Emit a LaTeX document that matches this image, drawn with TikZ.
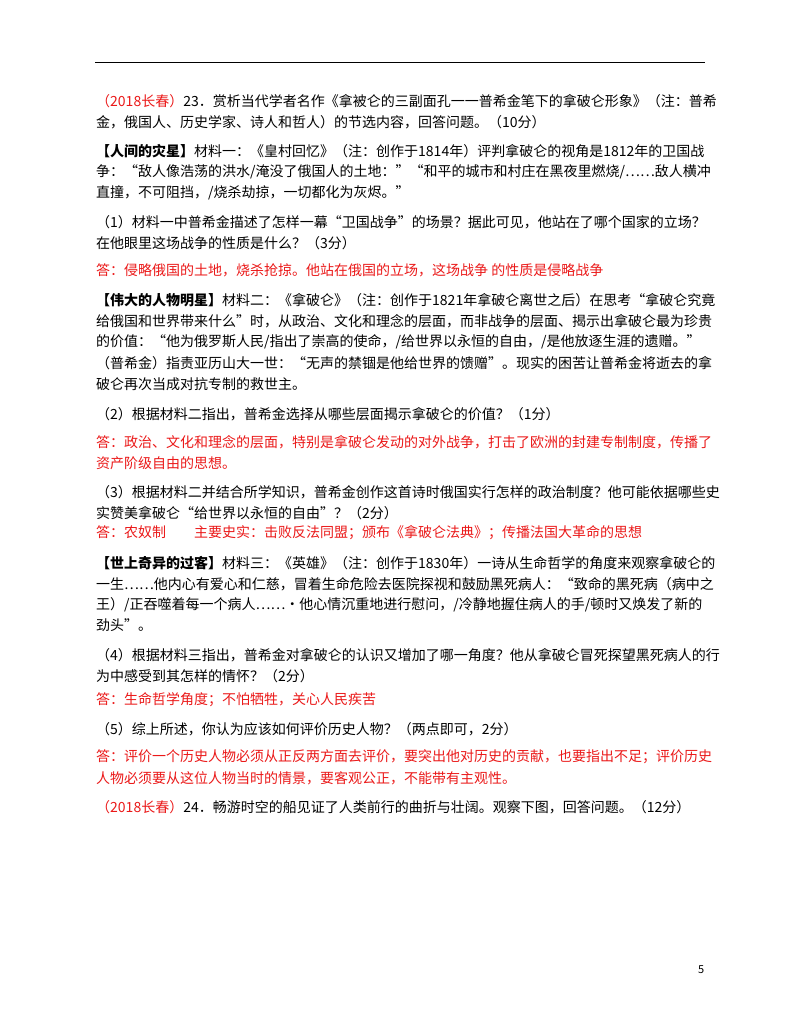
\documentclass[tikz,border=0pt]{standalone}
\usepackage{fontspec}
\setmainfont{Noto Sans CJK SC}
\XeTeXlinebreaklocale "zh"
\XeTeXlinebreakskip=0pt plus 4pt minus 1.2pt
\definecolor{ansred}{RGB}{235,25,25}
\newcommand{\fl}[1]{\makebox[608pt][s]{#1}}
\begin{document}
\begin{tikzpicture}[x=1pt,y=-1pt,
  txt/.style={anchor=west,inner sep=0pt,font=\fontsize{14}{16}\selectfont},
  ans/.style={txt,text=ansred}]
\useasboundingbox[fill=white] (0,0) rectangle (800,1035);
% Rule
\coordinate (rl) at (95,62);
\coordinate (rr) at (705,62);
\draw[line width=0.8pt] (rl) -- (rr);
% Question 23
\node[txt] (q1) at (96,101) {\fl{{\color{ansred}（2018长春）}23．赏析当代学者名作《拿被仑的三副面孔一一普希金笔下的拿破仑形象》（注：普希}};
\node[txt] (q2) at (96,122) {金，俄国人、历史学家、诗人和哲人）的节选内容，回答问题。（10分）};
% Material one
\node[txt] (m1a) at (96,151) {\fl{\textbf{【人间的灾星】}材料一：《皇村回忆》（注：创作于1814年）评判拿破仑的视角是1812年的卫国战}};
\node[txt] (m1b) at (96,172) {\fl{争：“敌人像浩荡的洪水/淹没了俄国人的土地："“和平的城市和村庄在黑夜里燃烧/……敌人横冲}};
\node[txt] (m1c) at (96,193) {直撞，不可阻挡，/烧杀劫掠，一切都化为灰烬。”};
\node[txt] (s1a) at (96,222) {\fl{（1）材料一中普希金描述了怎样一幕“卫国战争”的场景？据此可见，他站在了哪个国家的立场？}};
\node[txt] (s1b) at (96,243) {在他眼里这场战争的性质是什么？（3分）};
\node[ans] (a1) at (96,270) {答：侵略俄国的土地，烧杀抢掠。他站在俄国的立场，这场战争 的性质是侵略战争};
% Material two
\node[txt] (m2a) at (96,300) {\fl{\textbf{【伟大的人物明星】}材料二：《拿破仑》（注：创作于1821年拿破仑离世之后）在思考“拿破仑究竟}};
\node[txt] (m2b) at (96,321) {\fl{给俄国和世界带来什么”时，从政治、文化和理念的层面，而非战争的层面、揭示出拿破仑最为珍贵}};
\node[txt] (m2c) at (96,342) {\fl{的价值：“他为俄罗斯人民/指出了崇高的使命，/给世界以永恒的自由，/是他放逐生涯的遗赠。”}};
\node[txt] (m2d) at (96,363) {\fl{（普希金）指责亚历山大一世：“无声的禁锢是他给世界的馈赠”。现实的困苦让普希金将逝去的拿}};
\node[txt] (m2e) at (96,384) {破仑再次当成对抗专制的救世主。};
\node[txt] (s2) at (96,414) {（2）根据材料二指出，普希金选择从哪些层面揭示拿破仑的价值？（1分）};
\node[ans] (a2a) at (96,442) {\fl{答：政治、文化和理念的层面，特别是拿破仑发动的对外战争，打击了欧洲的封建专制制度，传播了}};
\node[ans] (a2b) at (96,463) {资产阶级自由的思想。};
\node[txt] (s3a) at (96,492) {\fl{（3）根据材料二并结合所学知识，普希金创作这首诗时俄国实行怎样的政治制度？他可能依据哪些史}};
\node[txt] (s3b) at (96,513) {实赞美拿破仑“给世界以永恒的自由”？（2分）};
\node[ans] (a3) at (96,533) {答：农奴制\hspace{28pt}主要史实：击败反法同盟；颁布《拿破仑法典》；传播法国大革命的思想};
% Material three
\node[txt] (m3a) at (96,563) {\fl{\textbf{【世上奇异的过客】}材料三：《英雄》（注：创作于1830年）一诗从生命哲学的角度来观察拿破仑的}};
\node[txt] (m3b) at (96,584) {\fl{一生……他内心有爱心和仁慈，冒着生命危险去医院探视和鼓励黑死病人：“致命的黑死病（病中之}};
\node[txt] (m3c) at (96,605) {\fl{王）/正吞噬着每一个病人……·他心情沉重地进行慰问，/冷静地握住病人的手/顿时又焕发了新的}};
\node[txt] (m3d) at (96,625) {劲头”。};
\node[txt] (s4a) at (96,655) {\fl{（4）根据材料三指出，普希金对拿破仑的认识又增加了哪一角度？他从拿破仑冒死探望黑死病人的行}};
\node[txt] (s4b) at (96,676) {为中感受到其怎样的情怀？（2分）};
\node[ans] (a4) at (96,700) {答：生命哲学角度；不怕牺牲，关心人民疾苦};
\node[txt] (s5) at (96,729) {（5）综上所述，你认为应该如何评价历史人物？（两点即可，2分）};
\node[ans] (a5a) at (96,757) {\fl{答：评价一个历史人物必须从正反两方面去评价，要突出他对历史的贡献，也要指出不足；评价历史}};
\node[ans] (a5b) at (96,778) {人物必须要从这位人物当时的情景，要客观公正，不能带有主观性。};
% Question 24
\node[txt] (q24) at (96,807) {{\color{ansred}（2018长春）}24．畅游时空的船见证了人类前行的曲折与壮阔。观察下图，回答问题。（12分）};
% Page number
\node[txt,font=\fontsize{11}{13}\selectfont] (pg) at (698,970) {5};
\end{tikzpicture}
\end{document}
